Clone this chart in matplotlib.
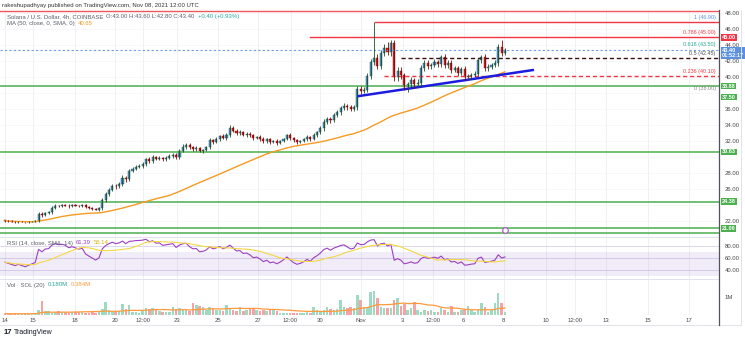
import matplotlib
matplotlib.use("Agg")
import matplotlib.pyplot as plt
from matplotlib.lines import Line2D
import numpy as np
import pandas as pd

plt.rcParams['font.family'] = ['Liberation Sans', 'DejaVu Sans']

# --- data (4h candles) ---
closes = [22.00, 21.95, 21.90, 21.85, 21.90, 21.85, 21.80, 21.85, 21.90, 21.95,
          22.80, 22.70, 23.00, 23.05, 23.60, 23.90, 23.85, 23.95, 23.90, 23.80,
          23.95, 23.90, 23.85, 23.95, 23.70, 23.60, 23.50, 23.40, 23.55, 24.60,
          25.30, 25.90, 26.40, 26.30, 26.60, 27.40, 27.20, 28.30, 28.50, 28.80,
          28.90, 29.10, 29.70, 29.50, 30.00, 29.80, 29.90, 29.70, 29.90, 30.10,
          30.30, 30.00, 30.80, 31.30, 31.50, 31.20, 31.00, 31.10, 30.80, 30.90,
          31.20, 32.10, 31.90, 32.20, 32.60, 32.40, 32.80, 33.60, 33.30, 33.00,
          33.10, 32.80, 32.90, 32.70, 32.40, 32.50, 32.30, 32.00, 32.20, 31.90,
          32.00, 31.80, 32.00, 32.30, 32.70, 32.40, 32.10, 31.90, 32.00, 32.20,
          32.50, 32.30, 32.80, 33.10, 33.60, 34.40, 34.80, 34.60, 35.20, 35.60,
          36.10, 36.40, 36.20, 36.00, 36.20, 38.50, 38.30, 38.40, 40.10, 41.90,
          42.40, 41.40, 43.00, 43.60, 43.10, 44.30, 40.00, 40.80, 40.20, 38.80,
          39.10, 39.60, 39.10, 39.30, 41.10, 41.80, 41.40, 41.50, 41.90, 41.60,
          42.50, 41.50, 41.80, 40.90, 41.10, 40.50, 41.00, 40.00, 40.10, 40.30,
          40.40, 42.10, 42.50, 41.10, 41.30, 41.50, 41.80, 43.80, 43.00, 43.40]
first_open = 22.05

wick_up = [.10, .05, .10, .05, .10, .10, .05, .10, .10, .15,
           .25, .30, .15, .20, .20, .15, .10, .15, .10, .15,
           .10, .15, .10, .15, .10, .10, .15, .10, .20, .20,
           .30, .25, .20, .25, .20, .30, .25, .20, .20, .15,
           .20, .25, .20, .25, .20, .15, .20, .15, .20, .25,
           .20, .25, .20, .30, .25, .20, .20, .25, .20, .15,
           .20, .30, .20, .25, .20, .30, .25, .40, .30, .20,
           .25, .20, .20, .25, .20, .15, .20, .20, .15, .20,
           .15, .20, .15, .10, .20, .25, .15, .20, .15, .20,
           .20, .15, .25, .20, .25, .30, .25, .20, .25, .30,
           .30, .35, .25, .30, .25, .40, .35, .30, .40, .40,
           4.50, .45, .40, .50, .80, .30, .40, .45, .50, .35,
           .30, .35, .30, .40, .45, .35, .40, .30, .35, .30,
           .25, .35, .30, .35, .30, .35, .30, .40, .30, .25,
           .30, .35, .30, .35, .30, .25, .30, .40, .80, .20]

wick_dn = [.10, .10, .05, .10, .10, .05, .10, .10, .05, .10,
           .15, .25, .15, .20, .15, .15, .10, .15, .10, .15,
           .10, .10, .15, .10, .15, .10, .15, .10, .15, .15,
           .20, .25, .20, .30, .20, .25, .30, .20, .20, .15,
           .20, .25, .20, .25, .20, .15, .20, .25, .20, .15,
           .20, .25, .30, .20, .25, .20, .30, .25, .20, .25,
           .20, .25, .30, .20, .25, .20, .30, .25, .20, .30,
           .25, .20, .25, .20, .30, .20, .25, .20, .30, .25,
           .20, .25, .20, .15, .20, .25, .20, .25, .20, .15,
           .20, .25, .20, .25, .20, .30, .25, .30, .25, .20,
           .30, .25, .35, .30, .25, .30, .40, .35, .30, .40,
           .35, .40, .45, .40, .35, .45, .50, .45, .40, .45,
           .70, .40, .50, .35, .40, .35, .40, .35, .30, .35,
           .30, .40, .35, .40, .30, .35, .30, .40, .35, .30,
           .35, .30, .35, .40, .30, .35, .30, .35, .40, .20]

# volume in thousands
volumes = [80, 60, 70, 90, 60, 50, 70, 80, 60, 100,
           280, 770, 220, 220, 120, 170, 200, 160, 180, 130,
           180, 170, 150, 160, 120, 110, 150, 120, 220, 330,
           700, 260, 230, 240, 220, 600, 320, 550, 170, 180,
           130, 220, 380, 330, 390, 270, 200, 160, 170, 150,
           430, 330, 380, 340, 270, 230, 660, 560, 500, 450,
           280, 440, 380, 280, 290, 230, 550, 330, 280, 230,
           440, 210, 280, 390, 380, 270, 240, 260, 220, 270,
           280, 220, 120, 110, 120, 110, 100, 130, 110, 120,
           150, 130, 440, 280, 230, 260, 440, 330, 280, 320,
           830, 440, 380, 440, 380, 1100, 830, 440, 440, 1270,
           1330, 940, 440, 380, 390, 380, 830, 940, 500, 600,
           280, 390, 720, 270, 180, 280, 220, 270, 170, 180,
           380, 270, 170, 500, 150, 170, 270, 270, 490, 270,
           180, 330, 660, 440, 150, 270, 660, 1200, 660, 180]

tick_idx = [0, 8.4, 20.9, 32.8, 41.2, 51.3, 63.6, 75.5, 85.1, 94,
            106, 118.5, 127.5, 136.7, 148.7, 161.2, 170, 179, 191.6, 203.9]
tick_labels = ['14', '15', '18', '20', '12:00', '23', '25', '27', '12:00', '30',
               'Nov', '3', '12:00', '6', '8', '10', '12:00', '13', '15', '17']
price_ticks = list(range(22, 49, 2))

fib_low, fib_high = 38.0, 46.9
fib_ratios = [1, 0.786, 0.618, 0.5, 0.236, 0]
fib_colors = ['#5b8fd6', '#f23645', '#22ab94', '#555555', '#f23645', '#888888']
support_levels = [38.88, 30.63, 24.38, 21.06, 20.44]
support_tags = [38.88, 37.50, 30.63, 24.38, 21.06]
resist_top = 48.25
trend_idx = [105.4, 157.3]
trend_price = [37.62, 40.88]
rsi_seed = (0.06, 0.05)  # average gain / loss carried in from before the first bar

# --- derived series ---
c = np.array(closes)
o = np.array([first_open] + closes[:-1])
hi = np.maximum(o, c) + np.array(wick_up)
lo = np.minimum(o, c) - np.array(wick_dn)
idx = np.arange(len(c))
up = c >= o

s = pd.Series(closes)
ma50 = s.rolling(50, min_periods=1).mean()
ag, al = rsi_seed
rsi_vals = []
for d in c - o:
    ag = (ag * 13 + max(d, 0)) / 14
    al = (al * 13 + max(-d, 0)) / 14
    rsi_vals.append(100 - 100 / (1 + ag / al))
rsi = pd.Series(rsi_vals)
rsi_ma = rsi.rolling(14, min_periods=1).mean()
vol = pd.Series(volumes)
vol_ma = vol.rolling(20, min_periods=1).mean()
fib_vals = [fib_low + r * (fib_high - fib_low) for r in fib_ratios]

W, H = 745, 340
fig = plt.figure(figsize=(W / 100, H / 100), dpi=100)
renderer = fig.canvas.get_renderer()


def box(x0, y0, x1, y1):
    return [x0 / W, 1 - y1 / H, (x1 - x0) / W, (y1 - y0) / H]


def text_row(x_px, y_px, parts, size=4.3):
    x = x_px
    for txt, col in parts:
        t = fig.text(x / W, 1 - y_px / H, txt, fontsize=size, color=col, va='center')
        x += t.get_window_extent(renderer).width + 3


ax = fig.add_axes(box(0, 10, 719, 236))
ax_rsi = fig.add_axes(box(0, 237, 719, 279), sharex=ax)
ax_vol = fig.add_axes(box(0, 280, 719, 315), sharex=ax)

for a in (ax, ax_rsi, ax_vol):
    for sp in a.spines.values():
        sp.set_visible(False)
    a.yaxis.tick_right()
    a.tick_params(axis='y', length=0, pad=4, labelsize=4.3, labelcolor='#4a4a4a')
    a.tick_params(axis='x', length=0, pad=2, labelsize=4.3, labelcolor='#4a4a4a')
    a.set_xticks(tick_idx)
    a.grid(axis='x', color='#eceef2', lw=0.6)
    a.set_axisbelow(True)
ax.set_xlim(-1.5, 212.8)
ax.tick_params(labelbottom=False)
ax_rsi.tick_params(labelbottom=False)
ax_vol.set_xticklabels(tick_labels)

# main price panel; tick labels hidden where a coloured price tag covers them
ax.set_ylim(20.1, 48.4)
tags_all = support_tags + [fib_vals[1], c[-1] - 0.35]
ax.set_yticks(price_ticks)
ax.set_yticklabels([f'{v:.2f}' if min(abs(v - t) for t in tags_all) > 0.8 else ''
                    for v in price_ticks])
ax.grid(axis='y', color='#f3f4f7', lw=0.5)

ax.axhline(resist_top, color='#f0585f', lw=1.0)
for lvl in support_levels:
    ax.axhline(lvl, color='#4caf50', lw=1.1)
ax.axhline(c[-1], color='#6a9de6', lw=0.8, ls=(0, (2, 2)))

fib_start = [110.4, 91.0, None, 118.0, 113.0, None]
fib_style = ['-', '-', None, (0, (3, 2)), (0, (3, 2)), None]
fib_lc = ['#f23645', '#f23645', None, '#3b1010', '#f23645', None]
for v, x0, ls, lc in zip(fib_vals, fib_start, fib_style, fib_lc):
    if x0 is not None:
        ax.plot([x0, 212.8], [v, v], color=lc, lw=1.0, ls=ls)
for r, v, col in zip(fib_ratios, fib_vals, fib_colors):
    ax.text(211.8, v + 0.25, f'{r:g} ({v:.2f})', color=col, fontsize=3.9,
            ha='right', va='bottom')

ax.plot(idx, ma50, color='#f59a23', lw=1.0)
ax.plot(trend_idx, trend_price, color='#1c1ce0', lw=1.8)

up_wick, dn_wick = '#1e4d2b', '#7a0d0d'
up_body, dn_body = '#4a8fe7', '#e31b1b'
ax.vlines(idx[up], lo[up], hi[up], color=up_wick, lw=0.6)
ax.vlines(idx[~up], lo[~up], hi[~up], color=dn_wick, lw=0.6)
body_h = np.maximum(np.abs(c - o), 0.06)
body_b = np.minimum(o, c)
ax.bar(idx[up], body_h[up], bottom=body_b[up], width=0.62, color=up_body,
       edgecolor=up_wick, linewidth=0.3)
ax.bar(idx[~up], body_h[~up], bottom=body_b[~up], width=0.62, color=dn_body,
       edgecolor=dn_wick, linewidth=0.3)
ax.plot([idx[-1]], [20.8], marker='o', ms=4, mfc='white', mec='#b04fc6', mew=0.8)


def price_tag(a, y, text, bg):
    a.text(1.004, y, text, transform=a.get_yaxis_transform(), fontsize=4.0,
           color='white', ha='left', va='center', fontweight='bold', linespacing=1.05,
           bbox=dict(boxstyle='square,pad=0.15', fc=bg, ec='none'), clip_on=False, zorder=10)


price_tag(ax, fib_vals[1], f'{fib_vals[1]:.2f}', '#f23645')
price_tag(ax, c[-1] - 0.35, f'{c[-1]:.2f}\n01:52:17', '#5b8fe0')
for lvl in support_tags:
    price_tag(ax, lvl, f'{lvl:.2f}', '#4caf50')

# RSI panel
ax_rsi.set_ylim(25.1, 94.2)
ax_rsi.axhspan(30, 70, color='#7e57c2', alpha=0.1, lw=0)
ax_rsi.set_yticks([40, 60, 80])
ax_rsi.set_yticklabels(['40.00', '60.00', '80.00'])
ax_rsi.grid(axis='y', color='#d9d0ea', lw=0.6)
ax_rsi.plot(idx, rsi, color='#9c3fc0', lw=0.8)
ax_rsi.plot(idx, rsi_ma, color='#f5d742', lw=0.8)

# volume panel
ax_vol.set_ylim(0, 1950)
ax_vol.set_yticks([1000])
ax_vol.set_yticklabels(['1M'])
vcol = np.where(up, '#9ed9c1', '#f5a3a6')
ax_vol.bar(idx, volumes, width=0.75, color=vcol)
ax_vol.plot(idx, vol_ma, color='#ff9a3c', lw=0.9)

# frame lines
for yy in (237, 279):
    fig.add_artist(Line2D([0, 719 / W], [1 - yy / H] * 2, color='#e0e3eb', lw=0.7))
fig.add_artist(Line2D([0, 741 / W], [1 - 325 / H] * 2, color='#e0e3eb', lw=0.7))
fig.add_artist(Line2D([741 / W] * 2, [1 - 325 / H, 1 - 10 / H], color='#e0e3eb', lw=0.7))
fig.add_artist(Line2D([719 / W] * 2, [1 - 325 / H, 1 - 10 / H], color='#50535e', lw=0.9))

# header texts
gray = '#5d606b'
text_row(2, 5, [('rakeshupadhyay published on TradingView.com, Nov 08, 2021 12:00 UTC', '#333333')])
text_row(7, 16.5, [('Solana / U.S. Dollar, 4h, COINBASE', gray),
                   (f'O:{o[-1]:.2f} H:{hi[-1]:.2f} L:{lo[-1]:.2f} C:{c[-1]:.2f}', gray),
                   (f'+{c[-1] - o[-1]:.2f} (+{(c[-1] - o[-1]) / o[-1] * 100:.2f}%)', '#26a69a')])
text_row(7, 23.5, [('MA (50, close, 0, SMA, 0)', gray), (f'{ma50.iloc[-1]:.2f}', '#f59a23')])
text_row(7, 243, [('RSI (14, close, SMA, 14)', gray), (f'{rsi.iloc[-1]:.2f}', '#9c3fc0'),
                  (f'{rsi_ma.iloc[-1]:.2f}', '#d4b300')])
text_row(7, 285, [('Vol · SOL (20)', gray), (f'{volumes[-1] / 1000:.3f}M', '#26a69a'),
                  (f'{vol_ma.iloc[-1] / 1000:.3f}M', '#ff9a3c')])
fig.text(4 / W, 1 - 333 / H, '17', fontsize=5.5, color='#131722', fontweight='bold', va='center')
fig.text(14 / W, 1 - 333 / H, 'TradingView', fontsize=5.0, color='#131722', va='center')

fig.savefig('out.png', dpi=100, facecolor='white')
